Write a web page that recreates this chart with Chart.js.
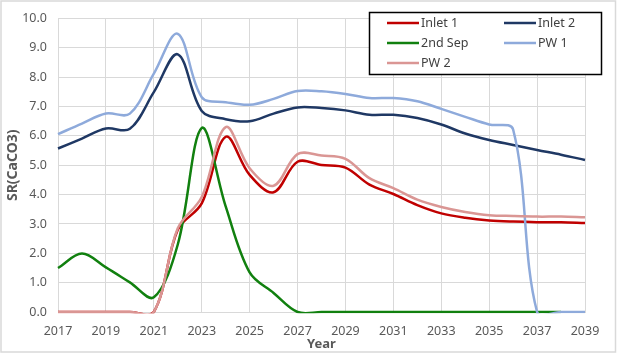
<!DOCTYPE html>
<html><head><meta charset="utf-8">
<script src="https://cdn.jsdelivr.net/npm/chart.js@4/dist/chart.umd.min.js"></script>
<style>html,body{margin:0;padding:0;background:#fff;} #wrap{width:617px;height:355px;position:relative;}</style>
</head><body><div id="wrap"><canvas id="c" width="617" height="355"></canvas></div>
<script>
const years  = [2017,2018,2019,2020,2021,2022,2023,2024,2025,2026,2027,2028,2029,2030,2031,2032,2033,2034,2035,2036,2037,2038,2039];
const inlet1 = [0,0,0,0,0,2.8,3.7,5.97,4.67,4.08,5.12,5.01,4.92,4.34,4.02,3.64,3.36,3.21,3.12,3.08,3.06,3.06,3.03];
const inlet2 = [5.57,5.91,6.25,6.24,7.49,8.78,6.85,6.57,6.5,6.76,6.97,6.95,6.87,6.72,6.72,6.61,6.39,6.08,5.86,5.69,5.52,5.36,5.18];
const sep2   = [1.5,1.99,1.52,1.01,0.5,2.3,6.27,3.6,1.35,0.65,0,0,0,0,0,0,0,0,0,0,0,0,null];
const pw1    = [6.06,6.42,6.76,6.76,8.12,9.48,7.32,7.15,7.06,7.26,7.53,7.52,7.43,7.29,7.29,7.18,6.92,6.65,6.39,6.22,0,0,0];
const pw2    = [0,0,0,0,0,2.85,3.92,6.3,4.9,4.3,5.38,5.33,5.22,4.56,4.22,3.83,3.58,3.41,3.3,3.27,3.25,3.25,3.23];
const seriesNames = ['Inlet 1','Inlet 2','2nd Sep','PW 1','PW 2'];
const yTicks = [0,1,2,3,4,5,6,7,8,9,10];
const xTicks = [2017,2019,2021,2023,2025,2027,2029,2031,2033,2035,2037,2039];

const colors = ['#C00000','#1F3864','#11800F','#8EAADB','#DA9694'];
const seriesVals = [inlet1, inlet2, sep2, pw1, pw2];
const toXY = arr => years.map((x,i)=>({x:x, y:arr[i]}));

const datasets = seriesVals.map((arr,i)=>({
  label: seriesNames[i],
  data: toXY(arr),
  borderColor: colors[i],
  backgroundColor: colors[i],
  borderWidth: 2.5,
  pointRadius: 0,
  tension: 0.35,
  fill: false,
  spanGaps: false,
  order: 4 - i,
  clip: {left: 3, top: 3, right: 3, bottom: 1.3}
}));

const FONT = '"Noto Sans", "Open Sans", sans-serif';

const decor = {
  id: 'decor',
  afterDraw(chart) {
    const ctx = chart.ctx;
    ctx.save();
    // outer border
    ctx.strokeStyle = '#d9d9d9';
    ctx.lineWidth = 1.5;
    ctx.strokeRect(1, 1, 614.5, 351);
    // legend box
    const bx = 369.5, by = 12.5, bw = 232, bh = 62;
    ctx.fillStyle = '#ffffff';
    ctx.fillRect(bx, by, bw, bh);
    ctx.strokeStyle = '#000000';
    ctx.lineWidth = 1.5;
    ctx.strokeRect(bx, by, bw, bh);
    const pos = [[387,23],[504,23],[387,43],[504,43],[387,63]];
    ctx.font = '12.5px ' + FONT;
    ctx.textBaseline = 'middle';
    ctx.textAlign = 'left';
    chart.data.datasets.forEach((ds,i)=>{
      const [lx,ly] = pos[i];
      ctx.strokeStyle = ds.borderColor;
      ctx.lineWidth = 2.5;
      ctx.beginPath();
      ctx.moveTo(lx, ly);
      ctx.lineTo(lx+32, ly);
      ctx.stroke();
      ctx.fillStyle = '#404040';
      ctx.fillText(ds.label, lx+34, ly+0.5);
    });
    ctx.restore();
  }
};

new Chart(document.getElementById('c'), {
  type: 'line',
  data: { datasets },
  options: {
    responsive: false,
    devicePixelRatio: 1,
    animation: false,
    layout: { padding: {left: 0, top: 16, right: 32, bottom: 0} },
    elements: { line: { capBezierPoints: false } },
    plugins: { legend: {display: false}, tooltip: {enabled: false} },
    scales: {
      x: {
        type: 'linear', min: 2017, max: 2039,
        afterBuildTicks: s => { s.ticks = xTicks.map(v=>({value:v})); },
        afterFit: s => { s.height = 43; },
        grid: { color: '#d9d9d9', lineWidth: 1, drawTicks: false },
        border: { color: '#d9d9d9', width: 1 },
        ticks: { padding: 12, color: '#595959', font: {family: FONT, size: 12.5}, callback: v => String(v), maxRotation: 0, autoSkip: false },
        title: { display: true, text: 'Year', color: '#595959', font: {family: FONT, size: 13, weight: 'bold'}, padding: {top: 0, bottom: 3} }
      },
      y: {
        min: 0, max: 10,
        afterBuildTicks: s => { s.ticks = yTicks.map(v=>({value:v})); },
        afterFit: s => { s.width = 58; },
        grid: { color: '#d9d9d9', lineWidth: 1, drawTicks: false },
        border: { color: '#d9d9d9', width: 1 },
        ticks: { padding: 11, color: '#595959', font: {family: FONT, size: 12.5}, callback: v => Number(v).toFixed(1) },
        title: { display: true, text: 'SR(CaCO3)', color: '#595959', font: {family: FONT, size: 14, weight: 'bold'}, padding: {top: 4.5, bottom: 0} }
      }
    }
  },
  plugins: [decor]
});
</script>
</body></html>
